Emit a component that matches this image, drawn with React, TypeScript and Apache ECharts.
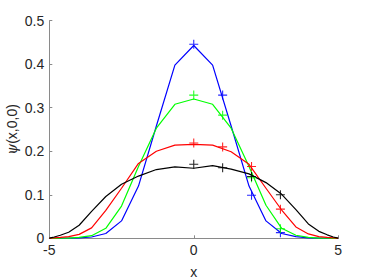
import React, { useEffect, useRef } from "react";
import * as echarts from "echarts";

const xGrid = [-5, -4.957, -4.83, -4.619, -4.33, -3.967, -3.536, -3.044, -2.5, -1.913, -1.294, -0.653, 0, 0.653, 1.294, 1.913, 2.5, 3.044, 3.536, 3.967, 4.33, 4.619, 4.83, 4.957, 5];
const blueLine = [0, 0, 0, 0, 0.0005, 0.001, 0.003, 0.011, 0.04, 0.12, 0.258, 0.398, 0.443, 0.398, 0.258, 0.12, 0.04, 0.011, 0.004, 0.001, 0.0005, 0, 0, 0, 0];
const greenLine = [0, 0, 0, 0.0002, 0.0006, 0.002, 0.006, 0.023, 0.074, 0.165, 0.253, 0.308, 0.32, 0.308, 0.253, 0.165, 0.076, 0.023, 0.007, 0.002, 0.0006, 0.0002, 0, 0, 0];
const redLine = [0, 0.0003, 0.001, 0.002, 0.004, 0.009, 0.024, 0.064, 0.115, 0.172, 0.2, 0.214, 0.216, 0.214, 0.199, 0.17, 0.115, 0.065, 0.026, 0.01, 0.004, 0.002, 0.001, 0.0003, 0];
const blackLine = [0, 0.001, 0.003, 0.007, 0.014, 0.03, 0.062, 0.096, 0.124, 0.143, 0.158, 0.164, 0.161, 0.167, 0.159, 0.148, 0.128, 0.101, 0.066, 0.033, 0.016, 0.008, 0.003, 0.001, 0];

const markerX = [0, 1, 2, 3];
const blueMarks = [0.446, 0.329, 0.099, 0.013];
const greenMarks = [0.329, 0.283, 0.139, 0.022];
const redMarks = [0.219, 0.21, 0.165, 0.067];
const blackMarks = [0.17, 0.162, 0.142, 0.1];

const xTicks = [-5, 0, 5];
const yTicks = [0, 0.1, 0.2, 0.3, 0.4, 0.5];

const PLUS = "path://M4.4,0h1.2v4.4h4.4v1.2h-4.4v4.4h-1.2v-4.4h-4.4v-1.2h4.4z";

export default function App() {
  const ref = useRef<HTMLDivElement>(null);
  useEffect(() => {
    if (!ref.current) return;
    const chart = echarts.init(ref.current, undefined, { renderer: "svg" });
    const font = "'Liberation Sans', Arial, Helvetica, sans-serif";
    const textColor = "#262626";
    const axisColor = "#8a8a8a";
    const lines = [
      { data: blueLine, color: "#0000ff" },
      { data: greenLine, color: "#00ff00" },
      { data: redLine, color: "#ff0000" },
      { data: blackLine, color: "#000000" },
    ];
    const marks = [
      { data: blueMarks, color: "#0000ff" },
      { data: greenMarks, color: "#00ff00" },
      { data: redMarks, color: "#ff0000" },
      { data: blackMarks, color: "#000000" },
    ];
    const series: any[] = [];
    lines.forEach((l) => {
      series.push({
        type: "line",
        data: xGrid.map((x, i) => [x, l.data[i]]),
        showSymbol: false,
        symbol: "none",
        lineStyle: { color: l.color, width: 1.2 },
        z: 2,
      });
    });
    marks.forEach((m) => {
      series.push({
        type: "scatter",
        data: markerX.map((x, i) => [x, m.data[i]]),
        symbol: PLUS,
        symbolSize: 9,
        itemStyle: { color: m.color, opacity: 0.85 },
        z: 3,
      });
    });
    chart.setOption({
      animation: false,
      grid: { left: 49.3, right: 35.8, top: 20.7, bottom: 41.7 },
      xAxis: {
        type: "value",
        min: xTicks[0],
        max: xTicks[xTicks.length - 1],
        interval: 5,
        axisLine: { show: true, onZero: false, lineStyle: { color: axisColor, width: 1 } },
        axisTick: { show: true, inside: true, length: 3, lineStyle: { color: axisColor } },
        splitLine: { show: false },
        axisLabel: { color: textColor, fontSize: 14, fontFamily: font, margin: 5 },
      },
      yAxis: {
        type: "value",
        min: yTicks[0],
        max: yTicks[yTicks.length - 1],
        interval: 0.1,
        axisLine: { show: true, onZero: false, lineStyle: { color: axisColor, width: 1 } },
        axisTick: { show: true, inside: true, length: 3, lineStyle: { color: axisColor } },
        splitLine: { show: false },
        axisLabel: { color: textColor, fontSize: 14, fontFamily: font, margin: 5 },
      },
      graphic: [
        {
          type: "text",
          x: 12,
          y: 129.5,
          rotation: Math.PI / 2,
          style: {
            text: "{p|ψ}(x,0,0)",
            fill: textColor,
            font: `14px ${font}`,
            align: "center",
            verticalAlign: "middle",
            rich: {
              p: { fontFamily: "'DejaVu Serif', serif", fontStyle: "italic", fontSize: 14, fill: textColor },
            },
          },
        },
        {
          type: "text",
          x: 193.8,
          y: 272,
          style: {
            text: "x",
            fill: textColor,
            font: `14px ${font}`,
            align: "center",
            verticalAlign: "middle",
          },
        },
      ],
      series,
    });
    return () => chart.dispose();
  }, []);
  return <div ref={ref} style={{ position: "fixed", left: 0, top: 0, width: 374, height: 280, background: "#fff" }} />;
}
